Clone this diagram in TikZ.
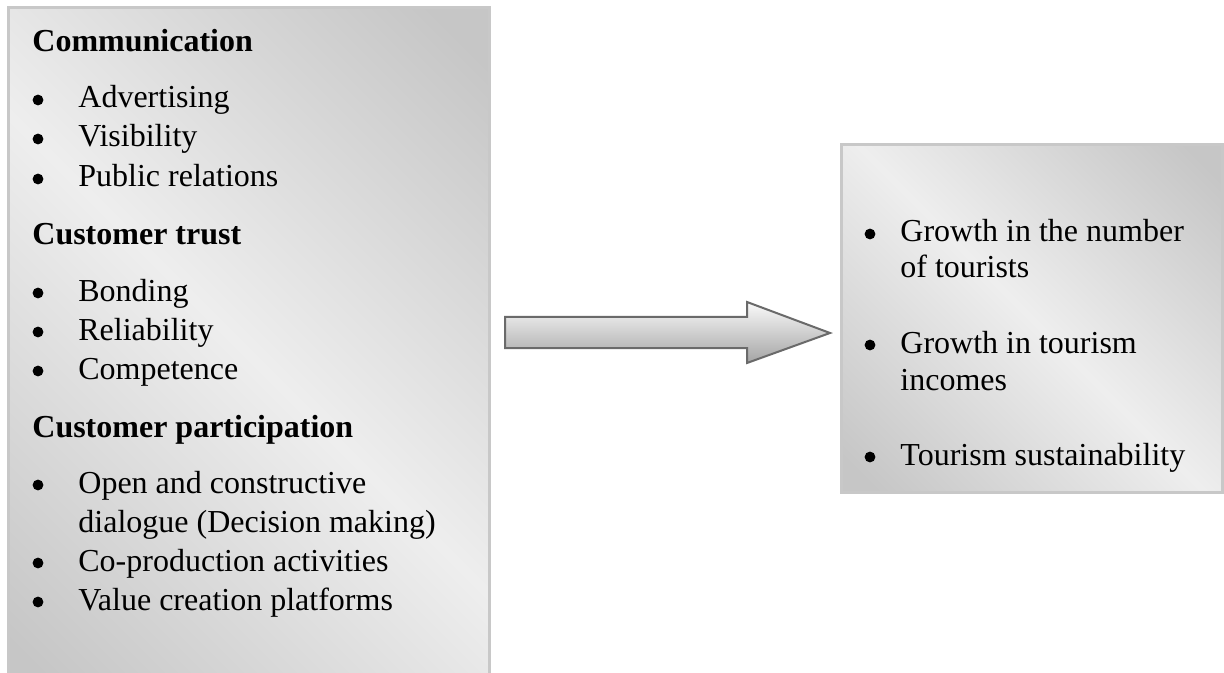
\documentclass[tikz,border=0pt]{standalone}
\usepackage{fontspec}
\setmainfont{Liberation Serif}
\definecolor{boxdark}{HTML}{C6C6C6}
\definecolor{boxlight}{HTML}{EEEEEE}
\definecolor{boxedge}{HTML}{C8C8C8}
\definecolor{arrowedge}{HTML}{6A6A6A}
\definecolor{arrowtop}{HTML}{FAFAFA}
\definecolor{arrowbot}{HTML}{A4A4A4}
\pgfdeclareverticalshading{panelshade}{100bp}{color(0bp)=(boxdark); color(18bp)=(boxdark); color(50bp)=(boxlight); color(82bp)=(boxdark); color(100bp)=(boxdark)}
\begin{document}
\begin{tikzpicture}[x=0.5pt,y=-0.5pt,
  panel/.style={draw=boxedge, line width=1.5pt, shading=panelshade, shading angle=-45},
  txt/.style={inner sep=0pt, anchor=base west, font=\fontsize{16}{20}\selectfont},
  head/.style={txt, font=\fontsize{16}{20}\selectfont\bfseries},
  dot/.style={circle, fill=black, inner sep=0pt, minimum size=5.4pt}
]
\useasboundingbox (0,0) rectangle (1224,673);
\clip (0,0) rectangle (1224,673);
\fill[white] (0,0) rectangle (1224,673);
% boxes
\coordinate (Lnw) at (8,8);
\coordinate (Lse) at (489,700);
\coordinate (Rnw) at (841,145);
\coordinate (Rse) at (1222,492);
\path[panel] (Lnw) rectangle (Lse);
\path[panel] (Rnw) rectangle (Rse);
% left texts
\node[head] (h1) at (32,52) {Communication};
\node[dot] (b1) at (38,100) {}; \node[txt] (t1) at (78,108) {Advertising};
\node[dot] (b2) at (38,139) {}; \node[txt] (t2) at (78,147) {Visibility};
\node[dot] (b3) at (38,179) {}; \node[txt] (t3) at (78,187) {Public relations};
\node[head] (h2) at (32,245) {Customer trust};
\node[dot] (b4) at (38,293) {}; \node[txt] (t4) at (78,301) {Bonding};
\node[dot] (b5) at (38,332) {}; \node[txt] (t5) at (78,340) {Reliability};
\node[dot] (b6) at (38,371) {}; \node[txt] (t6) at (78,379) {Competence};
\node[head] (h3) at (32,437) {Customer participation};
\node[dot] (b7) at (38,485) {}; \node[txt] (t7) at (78,493) {Open and constructive};
\node[txt] (t7b) at (78,532) {dialogue (Decision making)};
\node[dot] (b8) at (38,563) {}; \node[txt] (t8) at (78,571) {Co-production activities};
\node[dot] (b9) at (38,602) {}; \node[txt] (t9) at (78,610) {Value creation platforms};
% right texts
\node[dot] (r1) at (870,234) {}; \node[txt] (s1) at (900,242) {Growth in the number};
\node[txt] (s1b) at (900,278) {of tourists};
\node[dot] (r2) at (870,345) {}; \node[txt] (s2) at (900,353) {Growth in tourism};
\node[txt] (s2b) at (900,390) {incomes};
\node[dot] (r3) at (870,457) {}; \node[txt] (s3) at (900,465) {Tourism sustainability};
% arrow
\coordinate (a1) at (505,317);
\coordinate (a2) at (747,317);
\coordinate (a3) at (747,302);
\coordinate (tip) at (830,333);
\coordinate (a5) at (747,363);
\coordinate (a6) at (747,348);
\coordinate (a7) at (505,348);
\draw[draw=arrowedge, line width=1pt, line join=miter, top color=arrowtop, bottom color=arrowbot]
  (a1) -- (a2) -- (a3) -- (tip) -- (a5) -- (a6) -- (a7) -- cycle;
\end{tikzpicture}
\end{document}
